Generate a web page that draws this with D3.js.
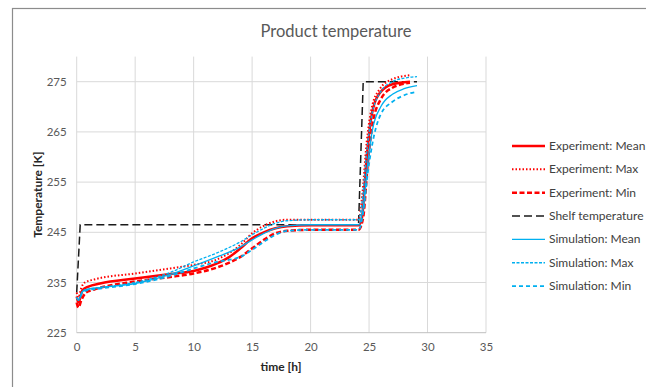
<!DOCTYPE html>
<html>
<head>
<meta charset="utf-8">
<script src="https://cdn.jsdelivr.net/npm/d3@7"></script>
<style>
  body { margin: 0; background: #fff; }
  text { font-family: Lato, "Open Sans", sans-serif; }
</style>
</head>
<body>
<div id="chart"></div>
<script>
// data
var xTicks = [0, 5, 10, 15, 20, 25, 30, 35];
var yTicks = [225, 235, 245, 255, 265, 275];

var expMeanT = [0, 0.15, 0.5, 1, 2, 5, 8, 10, 12, 13, 14, 15, 16, 17, 18, 20, 24.1, 24.4, 24.8, 25.2, 25.9, 27, 28.5];
var expMeanV = [232.2, 231, 233.5, 234.2, 234.8, 235.8, 236.7, 237.3, 238.8, 240, 241.8, 243.8, 245, 245.8, 246.2, 246.4, 246.4, 248, 260, 268, 272.7, 274.5, 275];

var expMaxT = [0, 0.15, 0.4, 0.7, 1.5, 5, 8, 10, 12, 13, 14, 15, 16, 17, 18, 20, 24.1, 24.4, 24.8, 25.2, 25.9, 27, 28.5];
var expMaxV = [233, 232, 234, 235, 235.6, 236.8, 237.8, 238.5, 239.6, 240.8, 242.5, 244.8, 246.3, 247.2, 247.5, 247.5, 247.5, 252, 263, 269.5, 273.5, 275.5, 276.3];

var expMinT = [0, 0.15, 0.4, 0.8, 1.5, 5, 8, 10, 12, 13, 14, 15, 16, 17, 18, 20, 24.1, 24.5, 24.9, 25.3, 26, 27, 28.5];
var expMinV = [231, 230, 231.5, 233, 233.6, 235.2, 236.1, 236.8, 238, 238.9, 240.1, 241.8, 243.5, 244.8, 245.3, 245.5, 245.5, 248, 259, 266.5, 271.5, 273.8, 274.8];

var shelfT = [0, 0.3, 24.1, 24.5, 29.1];
var shelfV = [233, 246.5, 246.5, 275, 275];

var simMeanT = [0, 0.15, 0.5, 1, 2, 5, 8, 10, 12, 14, 15, 16, 17, 18, 20, 24.1, 24.5, 24.9, 25.3, 26, 27, 28, 29.1];
var simMeanV = [232, 231.5, 233.2, 233.7, 234, 234.8, 236.6, 238.3, 240.1, 242.1, 243.5, 244.8, 245.8, 246.3, 246.5, 246.5, 250, 259, 265.5, 270, 272.5, 273.6, 274.2];

var simMaxT = [0, 0.15, 0.5, 1, 2, 5, 8, 10, 12, 14, 15, 16, 17, 18, 20, 24.1, 24.4, 24.8, 25.2, 26, 27, 28, 29.1];
var simMaxV = [232, 231.5, 233.3, 233.7, 234, 235, 237, 239.1, 240.9, 243.1, 244.5, 245.8, 246.8, 247.3, 247.5, 247.5, 251, 261, 268, 273, 275, 275.7, 276];

var simMinT = [0, 0.15, 0.5, 1, 2, 5, 8, 10, 12, 14, 15, 16, 17, 18, 20, 24.1, 24.5, 24.9, 25.4, 26, 27, 28, 29.1];
var simMinV = [232, 231.5, 233, 233.5, 233.8, 234.7, 236.3, 237.8, 239.1, 240.1, 241.5, 243.1, 244.5, 245.3, 245.5, 245.5, 249, 257, 264, 268.5, 271, 272.3, 273];

var seriesNames = ["Experiment: Mean", "Experiment: Max", "Experiment: Min", "Shelf temperature",
                   "Simulation: Mean", "Simulation: Max", "Simulation: Min"];

// SVG
var width = 646;
var height = 387;
var svg = d3.select("#chart")
    .append("svg")
    .attr("width", width)
    .attr("height", height);

// chart frame (right/bottom edges fall outside the picture)
svg.append("rect")
    .attr("x", 12.5).attr("y", 8.5)
    .attr("width", 700).attr("height", 400)
    .attr("fill", "none")
    .attr("stroke", "#8c8c8c")
    .attr("stroke-width", 1.2);

var x = d3.scaleLinear().domain([0, 35]).range([76.7, 486]);
var y = d3.scaleLinear().domain([225, 280]).range([332.7, 56.6]);

// grid
svg.append("g")
    .selectAll("line")
    .data(xTicks)
    .enter()
    .append("line")
    .attr("x1", d => x(d)).attr("x2", d => x(d))
    .attr("y1", y(280)).attr("y2", y(225))
    .attr("stroke", "#d9d9d9");

svg.append("g")
    .selectAll("line")
    .data(yTicks)
    .enter()
    .append("line")
    .attr("x1", x(0)).attr("x2", x(35))
    .attr("y1", d => y(d)).attr("y2", d => y(d))
    .attr("stroke", d => d === 225 ? "#bfbfbf" : "#d9d9d9");

// axes (labels only)
var xAxis = svg.append("g")
    .attr("transform", "translate(0," + y(225) + ")")
    .call(d3.axisBottom(x).tickValues(xTicks).tickSize(0).tickPadding(10));
var yAxis = svg.append("g")
    .attr("transform", "translate(" + x(0) + ",0)")
    .call(d3.axisLeft(y).tickValues(yTicks).tickSize(0).tickPadding(10));
[xAxis, yAxis].forEach(function(g) {
    g.select(".domain").remove();
    g.selectAll("text")
        .attr("fill", "#595959")
        .style("font-family", "Lato, sans-serif")
        .style("font-size", "11.5px");
});

// titles
svg.append("text")
    .attr("x", 336).attr("y", 37)
    .attr("text-anchor", "middle")
    .attr("fill", "#595959")
    .style("font-size", "16.5px")
    .text("Product temperature");

svg.append("text")
    .attr("x", 281).attr("y", 371)
    .attr("text-anchor", "middle")
    .attr("fill", "#262626")
    .style("font-size", "12px")
    .style("font-weight", "bold")
    .text("time [h]");

svg.append("text")
    .attr("transform", "translate(42," + (y(252.5)) + ") rotate(-90)")
    .attr("text-anchor", "middle")
    .attr("fill", "#262626")
    .style("font-size", "12px")
    .style("font-weight", "bold")
    .text("Temperature [K]");

// series
var series = [
    { t: expMeanT, v: expMeanV, color: "#ff0000", w: 2.5, dash: null },
    { t: expMaxT,  v: expMaxV,  color: "#ff0000", w: 2,   dash: "1.5,2" },
    { t: expMinT,  v: expMinV,  color: "#ff0000", w: 2.5, dash: "5,2.5" },
    { t: shelfT,   v: shelfV,   color: "#1a1a1a", w: 1.5, dash: "8,4", linear: true },
    { t: simMeanT, v: simMeanV, color: "#00b0f0", w: 1.3, dash: null },
    { t: simMaxT,  v: simMaxV,  color: "#00b0f0", w: 1.3, dash: "3,1.5" },
    { t: simMinT,  v: simMinV,  color: "#00b0f0", w: 1.8, dash: "4,3" }
];

var drawOrder = [3, 2, 1, 0, 6, 5, 4];
drawOrder.forEach(function(i) {
    var s = series[i];
    var pts = s.t.map((t, j) => [t, s.v[j]]);
    var line = d3.line()
        .x(d => x(d[0]))
        .y(d => y(d[1]))
        .curve(s.linear ? d3.curveLinear : d3.curveMonotoneX);
    svg.append("path")
        .datum(pts)
        .attr("d", line)
        .attr("fill", "none")
        .attr("stroke", s.color)
        .attr("stroke-width", s.w)
        .attr("stroke-dasharray", s.dash);
});

// legend
var legend = svg.append("g");
seriesNames.forEach(function(name, i) {
    var s = series[i];
    var ly = 146 + i * 23.35;
    legend.append("line")
        .attr("x1", 512).attr("x2", 545)
        .attr("y1", ly).attr("y2", ly)
        .attr("stroke", s.color)
        .attr("stroke-width", s.w)
        .attr("stroke-dasharray", s.dash);
    legend.append("text")
        .attr("x", 549).attr("y", ly + 4)
        .attr("fill", "#404040")
        .style("font-size", "12px")
        .text(name);
});
</script>
</body>
</html>
